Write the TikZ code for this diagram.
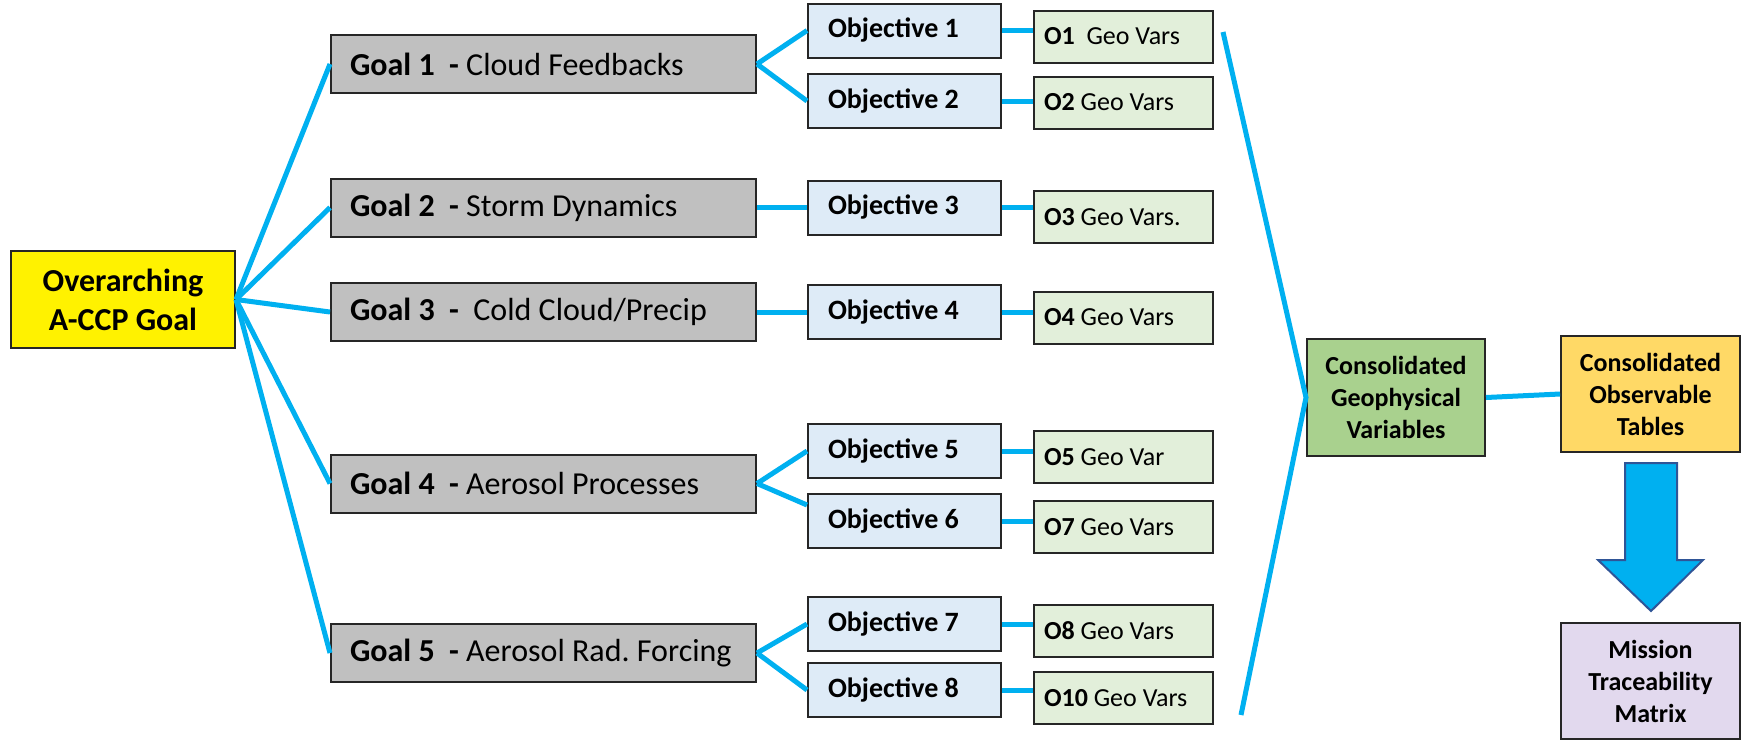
\documentclass[tikz,border=0pt]{standalone}
\usepackage{fontspec}
\setmainfont{Carlito}
\usepackage{tikz}

\definecolor{linkblue}{HTML}{00B0F0}
\definecolor{goalgray}{HTML}{C0C0C0}
\definecolor{objblue}{HTML}{DEEBF7}
\definecolor{vargreen}{HTML}{E2EFDA}
\definecolor{cgvgreen}{HTML}{A9D18E}
\definecolor{cotorange}{HTML}{FFD966}
\definecolor{mtmpurple}{HTML}{E2D9EE}
\definecolor{arrowedge}{HTML}{2F5597}

\begin{document}
\frenchspacing
\begin{tikzpicture}[x=0.5pt,y=-0.5pt]
    \tikzstyle{every node}=[rectangle,draw=black!85,line width=1pt,
      execute at begin node={\spaceskip=0pt\xspaceskip=0pt}]
    \tikzstyle{goal}=[fill=goalgray,minimum height=29pt,inner xsep=9.5pt,
      text width=193.5pt,align=left,font=\fontsize{16}{19}\selectfont]
    \tikzstyle{objective}=[fill=objblue,minimum height=27pt,inner xsep=10pt,
      text width=76.5pt,align=left,font=\fontsize{14}{17}\selectfont\bfseries]
    \tikzstyle{geovar}=[fill=vargreen,minimum height=26pt,inner xsep=5pt,
      text width=79.5pt,align=left,font=\fontsize{13}{16}\selectfont]
    \tikzstyle{summary}=[minimum width=89.5pt,minimum height=58pt,align=center,
      font=\fontsize{13}{16}\selectfont\bfseries]
    \tikzstyle{link}=[draw=linkblue,line width=2.5pt]
    \useasboundingbox (0,0) rectangle (1743,740);

    % overarching goal
    \node[fill=yellow,minimum width=112pt,minimum height=48.5pt,align=center,
      font=\fontsize{16}{19.5}\selectfont\bfseries] (over) at (123,299.5)
      {Overarching\\A-CCP Goal};

    % goals
    \node[goal] (g1) at (543.5,64) {\textbf{Goal 1}~~\textbf{-} Cloud Feedbacks};
    \node[goal] (g2) at (543.5,207.5) {\textbf{Goal 2}~~\textbf{-} Storm Dynamics};
    \node[goal] (g3) at (543.5,312) {\textbf{Goal 3}~~\textbf{-}~~Cold Cloud/Precip};
    \node[goal] (g4) at (543.5,483.5) {\textbf{Goal 4}~~\textbf{-} Aerosol Processes};
    \node[goal] (g5) at (543.5,653) {\textbf{Goal 5}~~\textbf{-} Aerosol Rad. Forcing};

    % objectives
    \node[objective] (ob1) at (904.5,30.5) {Objective 1};
    \node[objective] (ob2) at (904.5,101) {Objective 2};
    \node[objective] (ob3) at (904.5,207.5) {Objective 3};
    \node[objective] (ob4) at (904.5,312) {Objective 4};
    \node[objective] (ob5) at (904.5,451) {Objective 5};
    \node[objective] (ob6) at (904.5,521) {Objective 6};
    \node[objective] (ob7) at (904.5,624) {Objective 7};
    \node[objective] (ob8) at (904.5,690) {Objective 8};

    % geophysical variables per objective
    \node[geovar] (v1) at (1123.5,36.5) {\textbf{O1}~~Geo Vars};
    \node[geovar] (v2) at (1123.5,102.5) {\textbf{O2} Geo Vars};
    \node[geovar] (v3) at (1123.5,217) {\textbf{O3} Geo Vars.};
    \node[geovar] (v4) at (1123.5,317.5) {\textbf{O4} Geo Vars};
    \node[geovar] (v5) at (1123.5,457) {\textbf{O5} Geo Var};
    \node[geovar] (v7) at (1123.5,527) {\textbf{O7} Geo Vars};
    \node[geovar] (v8) at (1123.5,630.5) {\textbf{O8} Geo Vars};
    \node[geovar] (v10) at (1123.5,698) {\textbf{O10} Geo Vars};

    % consolidation
    \node[summary,fill=cgvgreen,minimum width=89pt,minimum height=58.5pt] (cgv) at (1396,397.5)
      {Consolidated\\Geophysical\\Variables};
    \node[summary,fill=cotorange] (cot) at (1650.5,394)
      {Consolidated\\Observable\\Tables};
    \node[summary,fill=mtmpurple] (mtm) at (1650.5,681)
      {Mission\\Traceability\\Matrix};
    \coordinate (ctop) at (1223,32);
    \coordinate (cbot) at (1241,715);

    \draw[link] (over.east) -- (g1.west);
    \draw[link] (over.east) -- (g2.west);
    \draw[link] (over.east) -- (g3.west);
    \draw[link] (over.east) -- (g4.west);
    \draw[link] (over.east) -- (g5.west);

    \draw[link] (g1.east) -- (ob1.west);
    \draw[link] (g1.east) -- (ob2.west);
    \draw[link] (g2.east) -- (ob3.west);
    \draw[link] (g3.east) -- (ob4.west);
    \draw[link] (g4.east) -- (ob5.west);
    \draw[link] (g4.east) -- ([yshift=8pt]ob6.west);
    \draw[link] (g5.east) -- (ob7.west);
    \draw[link] (g5.east) -- (ob8.west);

    \draw[link] (ob1.east) -- (ob1.east -| v1.west);
    \draw[link] (ob2.east) -- (ob2.east -| v2.west);
    \draw[link] (ob3.east) -- (ob3.east -| v3.west);
    \draw[link] (ob4.east) -- (ob4.east -| v4.west);
    \draw[link] (ob5.east) -- (ob5.east -| v5.west);
    \draw[link] (ob6.east) -- (ob6.east -| v7.west);
    \draw[link] (ob7.east) -- (ob7.east -| v8.west);
    \draw[link] (ob8.east) -- (ob8.east -| v10.west);

    \draw[link] (ctop) -- (cgv.west) -- (cbot);
    \draw[link] (cgv.east) -- (cot.west);

    % block arrow down to the matrix
    \filldraw[fill=linkblue,draw=arrowedge,line width=1pt]
      (1625,463) -- (1677,463) -- (1677,560) -- (1703,560) -- (1651,611)
      -- (1598,560) -- (1625,560) -- cycle;
\end{tikzpicture}
\end{document}
